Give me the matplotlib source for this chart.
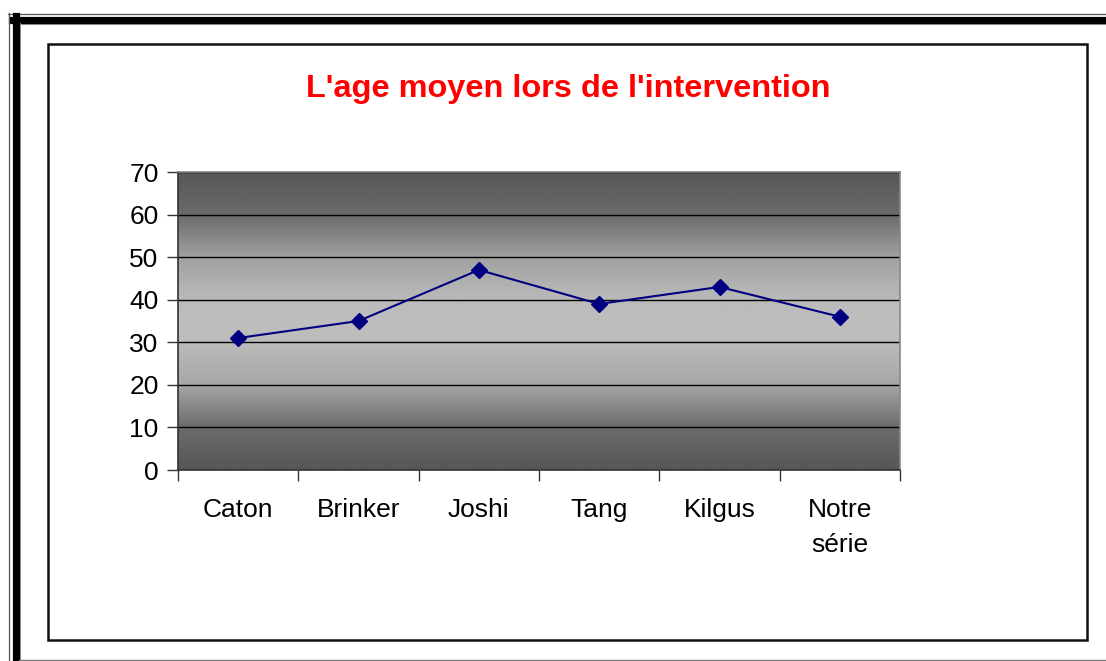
import matplotlib.pyplot as plt
import numpy as np
from matplotlib.patches import Rectangle
from matplotlib.lines import Line2D

plt.rcParams['font.family'] = ['Liberation Sans', 'DejaVu Sans']

categories = ["Caton", "Brinker", "Joshi", "Tang", "Kilgus", "Notre\nsérie"]
ages = [31, 35, 47, 39, 43, 36]
title = "L'age moyen lors de l'intervention"

W, H = 1106, 661
fig = plt.figure(figsize=(W / 100, H / 100), dpi=100)


def px(x, y):
    return x / W, 1 - y / H


# frame borders (pixel positions)
def hline(x0, x1, y, lw, color):
    a, b = px(x0, y)
    c, _ = px(x1, y)
    fig.add_artist(Line2D([a, c], [b, b], lw=lw, color=color, transform=fig.transFigure))


def vline(x, y0, y1, lw, color):
    a, b = px(x, y0)
    _, d = px(x, y1)
    fig.add_artist(Line2D([a, a], [b, d], lw=lw, color=color, transform=fig.transFigure))


hline(8, W, 13.5, 0.9, "#555555")
hline(12, W, 19.5, 5.2, "black")
hline(19, W, 23.5, 0.7, "#888888")
vline(8.5, 13, H, 0.9, "#555555")
vline(15.5, 16, H, 5.2, "black")
vline(19.5, 23, H, 0.7, "#888888")
hline(19, W, 659.5, 1.0, "#777777")

# inner chart box
x0, y0 = px(48, 640)
x1, y1 = px(1087, 44)
fig.add_artist(Rectangle((x0, y0), x1 - x0, y1 - y0, fill=False, lw=1.8,
                         edgecolor="#111111", transform=fig.transFigure))

# plot area
l, b = px(178, 470)
r, t = px(900, 172)
ax = fig.add_axes([l, b, r - l, t - b])

n = len(categories)
ax.set_xlim(0, n)
ax.set_ylim(0, 70)

# gradient background: dark at top and bottom, light in the middle
v = np.linspace(0, 70, 400)
stops_v = [0, 10, 20, 30, 35, 40, 50, 60, 70]
stops_g = [0.34, 0.42, 0.65, 0.735, 0.745, 0.73, 0.63, 0.42, 0.34]
shade = np.interp(v, stops_v, stops_g)
img = np.repeat(shade[:, None], 2, axis=1)
ax.imshow(img, cmap="gray", vmin=0, vmax=1, extent=(0, n, 0, 70),
          origin="lower", aspect="auto", zorder=0, interpolation="bilinear")

ax.set_yticks(range(0, 71, 10))
for yv in range(10, 71, 10):
    ax.axhline(yv, color="black", lw=1.0, zorder=1)

xs = np.arange(n) + 0.5
ax.plot(xs, ages, color="#000080", lw=1.5, marker="D", markersize=8,
        markerfacecolor="#000080", markeredgecolor="#000080", zorder=3)

ax.set_xticks(np.arange(n + 1))
ax.set_xticklabels([])
ax.set_xticks(xs, minor=True)
ax.set_xticklabels(categories, minor=True, fontsize=19, linespacing=1.6)
ax.tick_params(axis="x", which="minor", length=0, pad=20)
ax.tick_params(axis="x", which="major", direction="out", length=8, width=1, color="#333333")
ax.tick_params(axis="y", direction="out", length=8, width=1, color="#333333",
               labelsize=19, pad=6)

for s in ["left", "bottom"]:
    ax.spines[s].set_color("#333333")
    ax.spines[s].set_linewidth(1.2)
for s in ["top", "right"]:
    ax.spines[s].set_color("#888888")
    ax.spines[s].set_linewidth(1.2)

tx, ty = px(568, 89)
fig.text(tx, ty, title, color="#ff0000", fontsize=23.4, fontweight="bold",
         ha="center", va="center")

fig.savefig("out.png", dpi=100)
